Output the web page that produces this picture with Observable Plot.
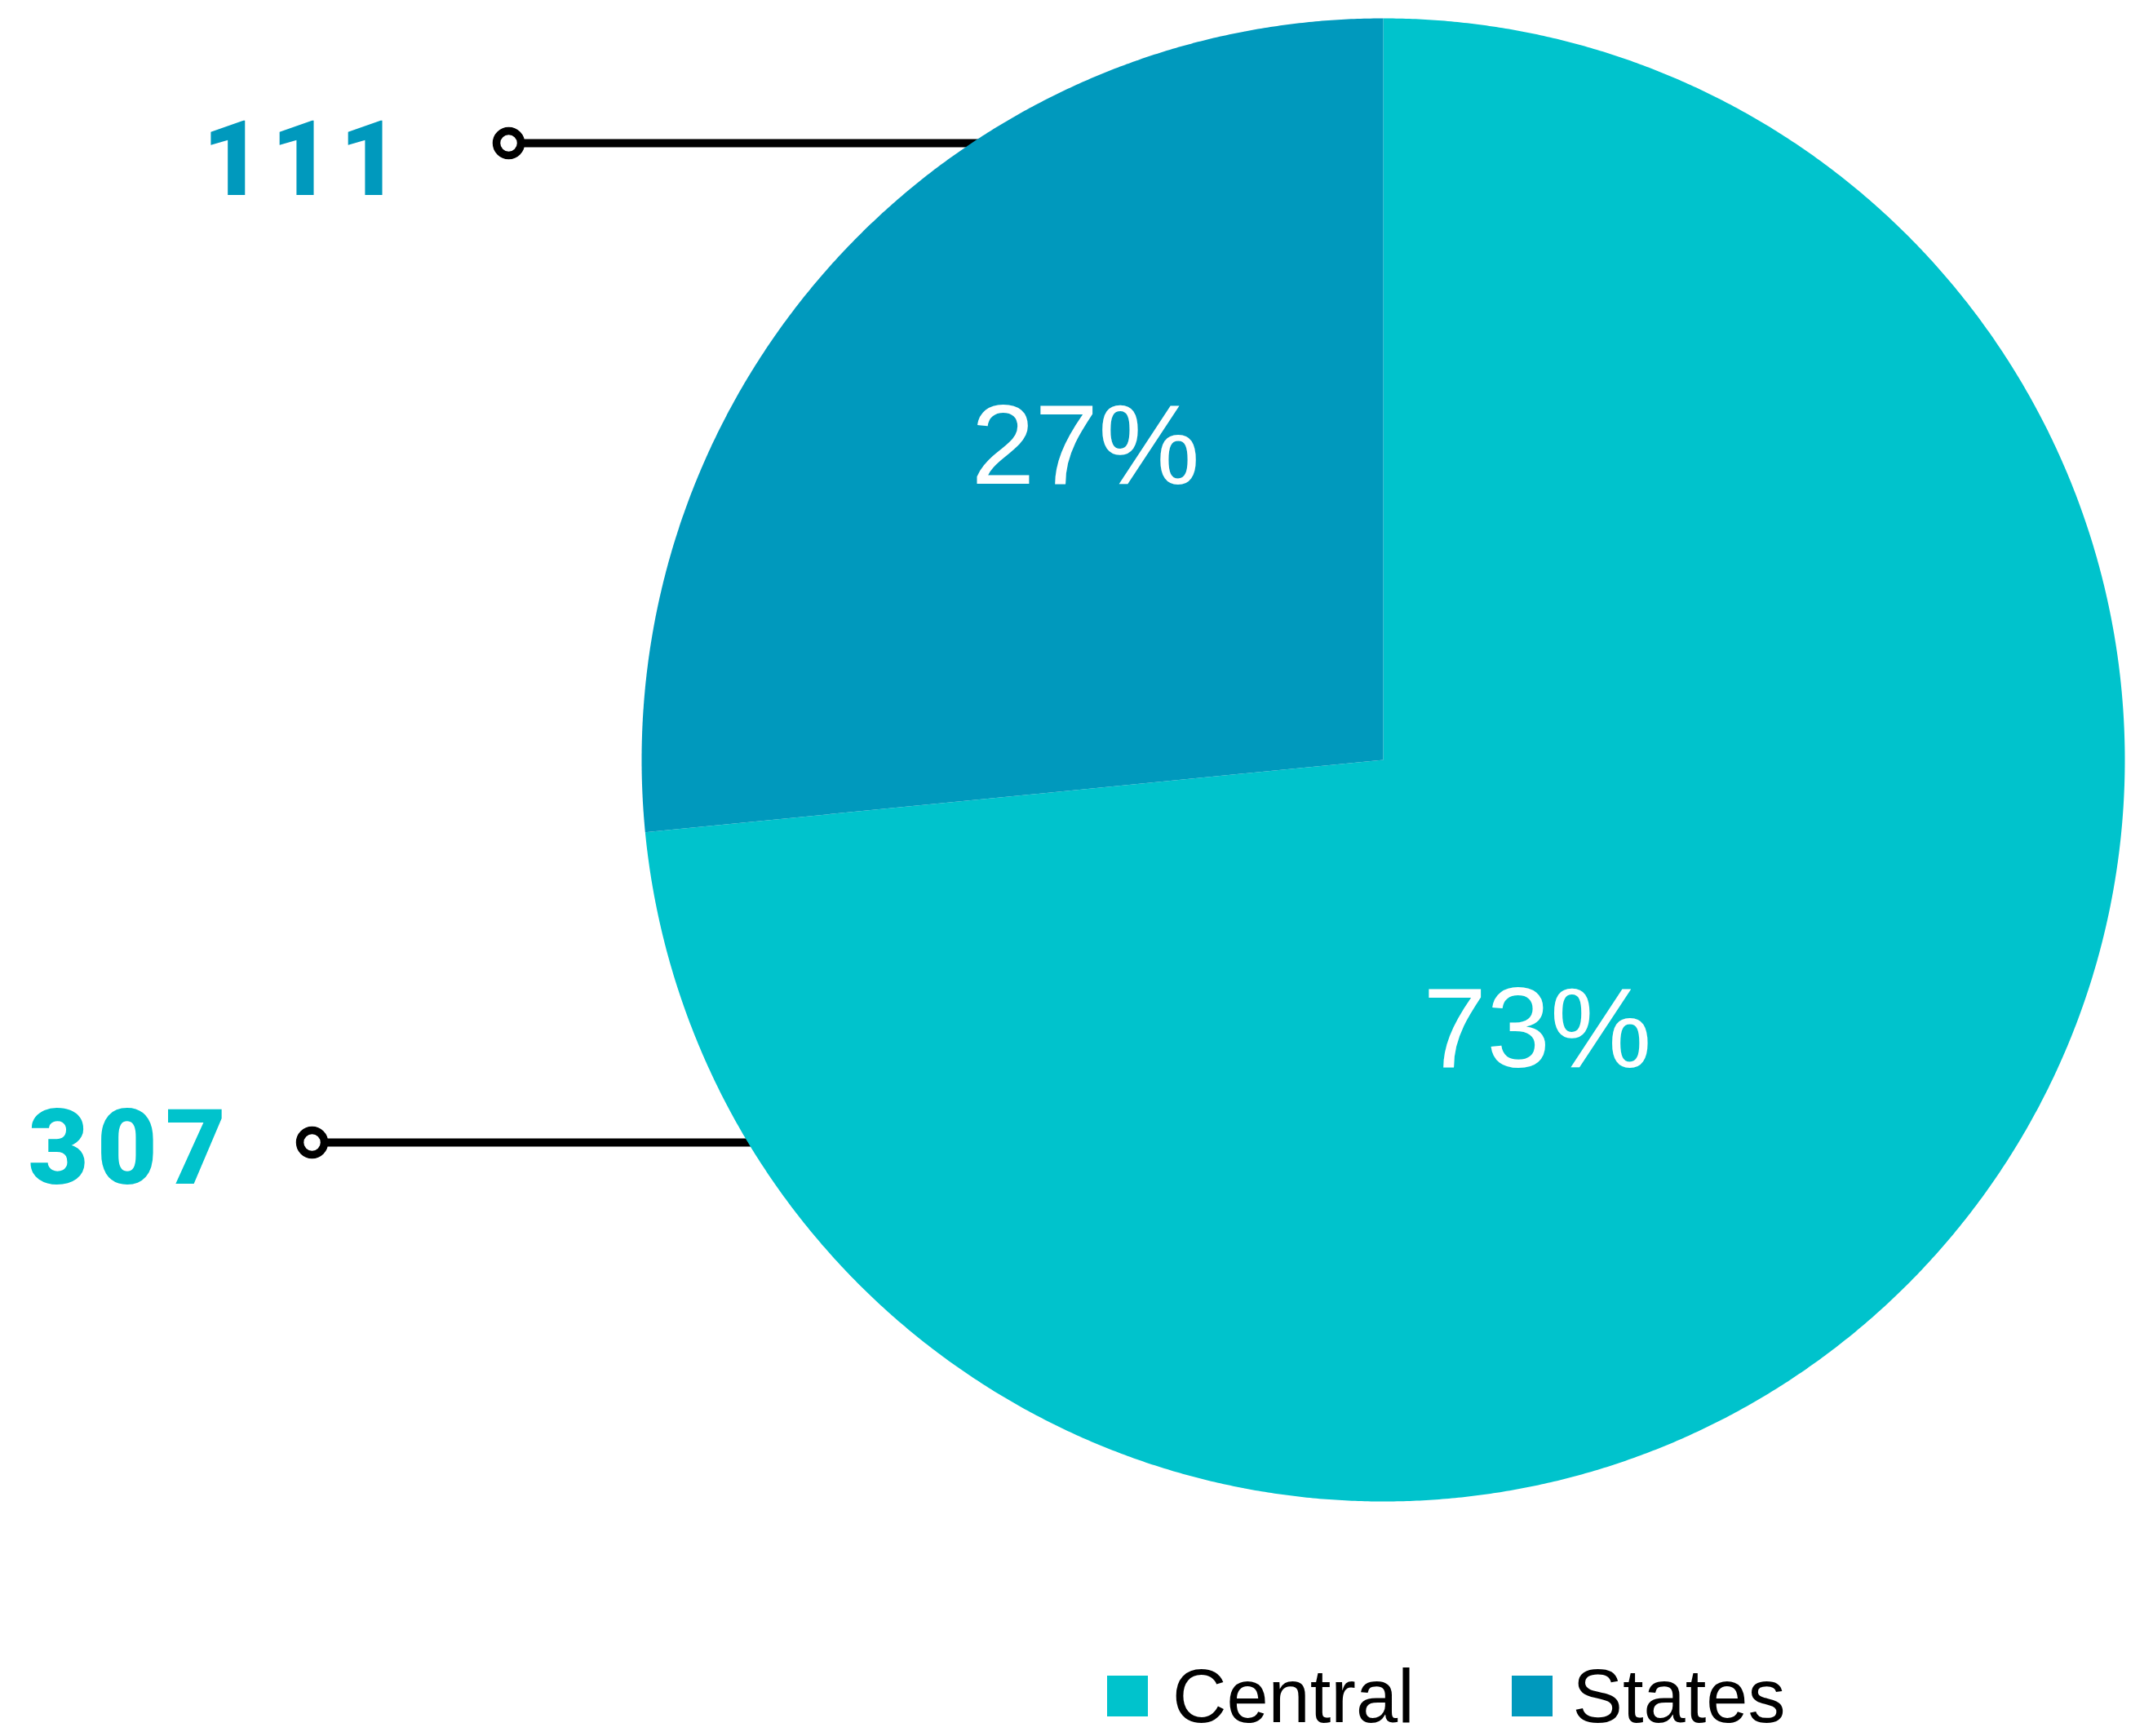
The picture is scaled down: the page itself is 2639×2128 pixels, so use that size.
<!DOCTYPE html>
<html><head><meta charset="utf-8">
<script src="https://cdn.jsdelivr.net/npm/d3@7"></script>
<script src="https://cdn.jsdelivr.net/npm/@observablehq/plot@0.6"></script>
<style>
html,body{margin:0;padding:0;background:#fff;}
body{width:2639px;height:2128px;overflow:hidden;font-family:"Liberation Sans",Arial,Helvetica,sans-serif;}
#chart svg text.pct{font-family:"Liberation Sans",Arial,Helvetica,sans-serif !important;}
#chart svg text.cnt{font-family:Roboto,"Liberation Sans",Arial,sans-serif !important;font-weight:900 !important;letter-spacing:10px;}
#legend{display:flex;align-items:center;height:98px;padding-top:30px;padding-left:1357px;}
.sw{width:50px;height:50px;flex:none;}
.lab{display:inline-block;font-size:92px;line-height:1;color:#000;white-space:nowrap;}
</style></head><body><div id="chart"></div><div id="legend"></div>
<script>
// ---- data ----
const categories = ["Central", "States"];
const values = [307, 111];
const shareLabels = ["73%", "27%"];
const countLabels = ["307", "111"];
const colors = ["#00c3cc", "#0099bd"];

// ---- layout (pie units: centre 0,0 radius 1) ----
const sharePos = {Central: [0.2079, -0.3652], States: [-0.4015, 0.4213]};
const countPos = {Central: [-1.8273, -0.5259, "start"], States: [-1.3146, 0.8064, "end"]};
const markerPos = {Central: [-1.4444, -0.5160, -0.3], States: [-1.1793, 0.8317, -0.3]};

const data = categories.map((c, i) => ({cat: c, value: values[i], share: shareLabels[i], count: countLabels[i], color: colors[i]}));

const arcs = d3.pie().sort(null).value(d => d.value)(data);
const pts = arcs.flatMap(a => {
  const n = Math.max(2, Math.ceil((a.endAngle - a.startAngle) / (Math.PI / 720)));
  const out = [{cat: a.data.cat, x: 0, y: 0}];
  for (let i = 0; i <= n; i++) {
    const t = a.startAngle + (a.endAngle - a.startAngle) * i / n;
    out.push({cat: a.data.cat, x: Math.sin(t), y: Math.cos(t)});
  }
  return out;
});

const chart = Plot.plot({
  width: 2639,
  height: 2000,
  margin: 0,
  style: {background: "#fff"},
  x: {domain: [-1, 1], range: [786, 2604], axis: null},
  y: {domain: [-1, 1], range: [1840, 22], axis: null},
  color: {domain: categories, range: colors},
  marks: [
    Plot.link(data, {
      x1: d => markerPos[d.cat][0], y1: d => markerPos[d.cat][1],
      x2: d => markerPos[d.cat][2], y2: d => markerPos[d.cat][1],
      stroke: "#000", strokeWidth: 10
    }),
    Plot.line(pts, {x: "x", y: "y", z: "cat", fill: "cat", stroke: "none"}),
    Plot.dot(data, {
      x: d => markerPos[d.cat][0], y: d => markerPos[d.cat][1],
      r: 15, fill: "#fff", stroke: "#000", strokeWidth: 9.5
    }),
    Plot.text(data, {
      x: d => sharePos[d.cat][0], y: d => sharePos[d.cat][1], text: "share",
      fill: "#fff", fontSize: 140, textAnchor: "middle", lineAnchor: "middle"
    }),
    Plot.text(data.filter(d => countPos[d.cat][2] === "start"), {
      x: d => countPos[d.cat][0], y: d => countPos[d.cat][1], text: "count",
      fill: "cat", fontSize: 128, textAnchor: "start", lineAnchor: "middle"
    }),
    Plot.text(data.filter(d => countPos[d.cat][2] === "end"), {
      x: d => countPos[d.cat][0], y: d => countPos[d.cat][1], text: "count",
      fill: "cat", fontSize: 128, textAnchor: "end", lineAnchor: "middle"
    })
  ]
});
chart.querySelectorAll("text").forEach(t => {
  t.classList.add(/%/.test(t.textContent) ? "pct" : "cnt");
});
document.getElementById("chart").appendChild(chart);

// ---- legend ----
const legend = document.getElementById("legend");
const swGap = [30, 25];
const itemGap = [119, 0];
data.forEach((d, i) => {
  const sw = document.createElement("span");
  sw.className = "sw";
  sw.style.background = d.color;
  sw.style.marginRight = swGap[i] + "px";
  const lab = document.createElement("span");
  lab.className = "lab";
  lab.textContent = d.cat;
  lab.style.marginRight = itemGap[i] + "px";
  legend.appendChild(sw);
  legend.appendChild(lab);
});
</script></body></html>
